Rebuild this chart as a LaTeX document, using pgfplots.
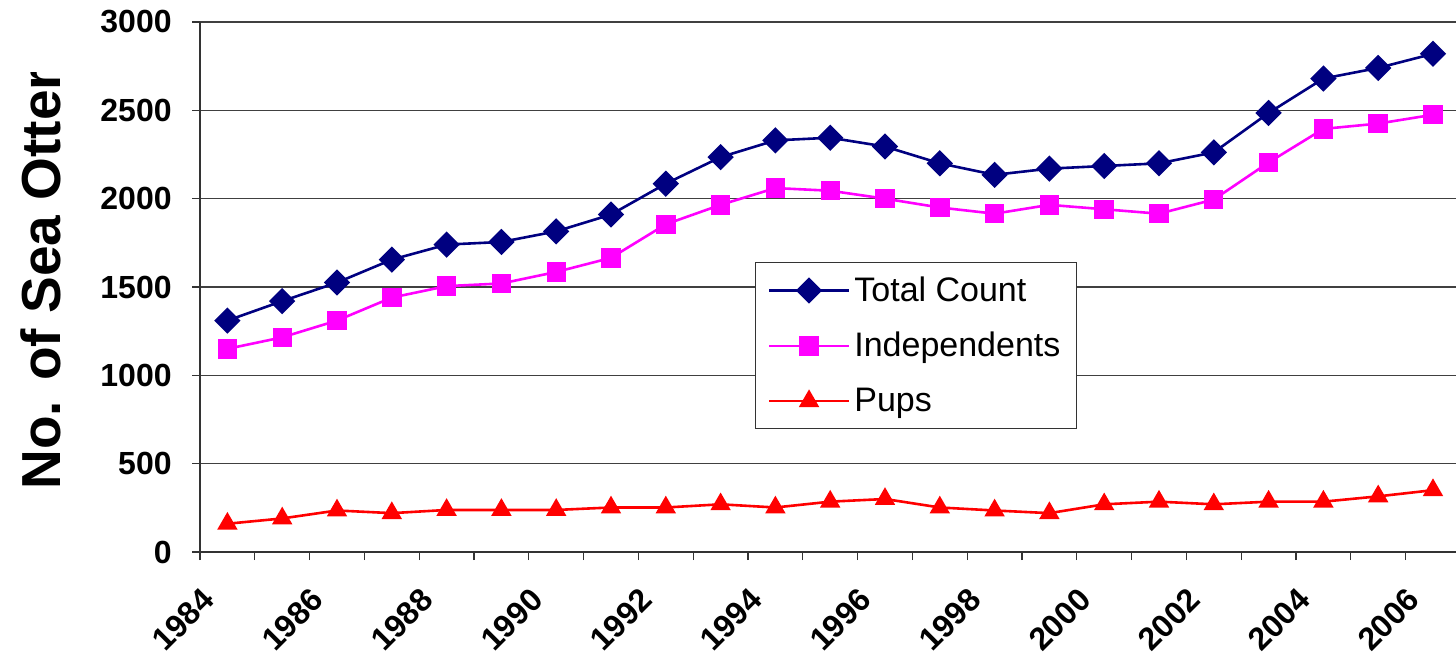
\documentclass[border=0pt]{standalone}
\usepackage{fontspec}
\setmainfont{Liberation Sans}
\usepackage{pgfplots}
\usepackage{pgfplotstable}
\pgfplotsset{compat=1.18}

\definecolor{totalc}{HTML}{000080}
\definecolor{indepc}{HTML}{FF00FF}
\definecolor{pupsc}{HTML}{FF0000}

% year total independents pups (points sit mid-category)
\pgfplotstableread{
year   total indep pups
1984.5 1310 1150 160
1985.5 1420 1215 190
1986.5 1525 1310 235
1987.5 1655 1440 220
1988.5 1740 1505 238
1989.5 1755 1520 238
1990.5 1815 1585 238
1991.5 1910 1665 252
1992.5 2085 1855 252
1993.5 2235 1965 270
1994.5 2330 2060 252
1995.5 2345 2045 285
1996.5 2295 2000 300
1997.5 2200 1950 252
1998.5 2135 1915 235
1999.5 2170 1965 220
2000.5 2185 1940 270
2001.5 2200 1915 285
2002.5 2262 1995 270
2003.5 2485 2205 285
2004.5 2680 2395 285
2005.5 2740 2425 315
2006.5 2820 2475 350
}\otters

\begin{document}
\begin{tikzpicture}
\useasboundingbox (0,0) rectangle (728pt,330.5pt);
\begin{axis}[
    at={(100pt,54.5pt)}, anchor=south west,
    scale only axis,
    width=628pt, height=265pt,
    xmin=1984, xmax=2006.92,
    ymin=0, ymax=3000,
    axis lines*=left,
    axis line style={black!80, line width=1pt},
    ytick={0,500,...,3000},
    xtick={1984,1986,...,2006},
    minor xtick={1985,1987,...,2005},
    tick align=outside,
    major tick length=4pt,
    minor tick length=4pt,
    tick style={black!80, line width=0.6pt},
    ymajorgrids,
    major grid style={black!75, line width=0.7pt},
    /pgf/number format/assume math mode=true,
    /pgf/number format/1000 sep={},
    yticklabel style={font=\fontsize{16}{16}\selectfont\bfseries, anchor=east, inner sep=0pt, xshift=-10pt},
    xticklabel style={font=\fontsize{16}{16}\selectfont\bfseries, yshift=-13pt, xshift=0pt, rotate=45, anchor=north east, inner sep=0pt},
    every axis plot/.append style={line width=1.3pt},
    legend style={at={(0.442,0.547)}, anchor=north west, draw=black!80, line width=0.6pt,
        font=\fontsize{17}{17}\selectfont, row sep=10pt, inner xsep=6pt, inner ysep=5pt},
    legend cell align=left,
    legend image code/.code={\draw[mark repeat=2,mark phase=2] plot coordinates {(0pt,0pt) (20pt,0pt) (40pt,0pt)};},
]
\addplot[color=totalc, mark=square*, mark size=4pt, mark options={rotate=45, fill=totalc}]
    table[x=year, y=total] {\otters};
\addlegendentry{Total Count}
\addplot[color=indepc, mark=square*, mark size=4.2pt, mark options={fill=indepc}]
    table[x=year, y=indep] {\otters};
\addlegendentry{Independents}
\addplot[color=pupsc, mark=triangle*, mark size=4.6pt, mark options={fill=pupsc}]
    table[x=year, y=pups] {\otters};
\addlegendentry{Pups}
\end{axis}
\begin{scope}
\clip (0,0) rectangle (100pt,294.5pt);
\node[rotate=90, anchor=base west, inner sep=0pt, font=\fontsize{27.5}{27.5}\selectfont\bfseries]
    at (30pt,85.5pt) {No. of Sea Otters};
\end{scope}
\end{tikzpicture}
\end{document}
